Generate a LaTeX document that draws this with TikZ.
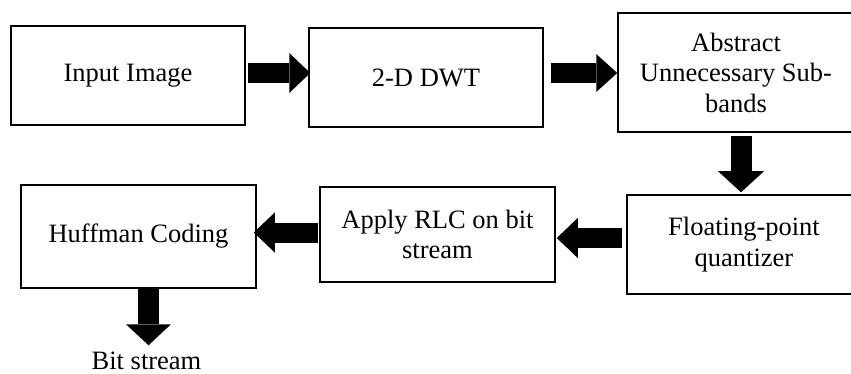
\documentclass[tikz,border=0pt]{standalone}
\usepackage{fontspec}
\setmainfont{Liberation Serif}
\usetikzlibrary{arrows.meta,calc}

\tikzset{
  stage/.style={draw, line width=1.5pt, rectangle, inner sep=0pt, align=center,
    font=\fontsize{26.5}{30.5}\selectfont},
  blk/.style={line width=20pt, -{Triangle[length=21pt,width=#1,line width=0pt]}},
  blk/.default=40pt,
  lbl/.style={inner sep=0pt, font=\fontsize{26.5}{30.5}\selectfont}
}

\begin{document}
\begin{tikzpicture}[x=1pt,y=-1pt]
  \clip (0,0) rectangle (851,374);

  % processing stages
  \node[stage, minimum width=234pt, minimum height=99pt]  (inp) at (128,75.5)   {Input Image};
  \node[stage, minimum width=234pt, minimum height=99pt]  (dwt) at (426,77.5)   {2-D DWT};
  \node[stage, minimum width=236pt, minimum height=119pt] (abs) at (736,72.5)   {Abstract\\Unnecessary Sub-\\bands};
  \node[stage, minimum width=234pt, minimum height=99pt]  (flt) at (744,244.5)  {\raisebox{-2pt}{\begin{tabular}{@{}c@{}}Floating-point\\[0.5pt]quantizer\end{tabular}}};
  \node[stage, minimum width=235pt, minimum height=95pt]  (rlc) at (437.5,234.5) {Apply RLC on bit\\stream};
  \node[stage, minimum width=235pt, minimum height=103pt] (huf) at (138.5,236.5) {Huffman Coding};
  \node[lbl, anchor=base] (bits) at (146.5,369) {Bit stream};

  % block arrows between stages
  \draw[blk] ($(inp.east|-0,73)+(2,0)$) -- ($(dwt.west|-0,73)+(2,0)$);
  \draw[blk=38pt] ($(dwt.east|-0,73)+(7,0)$) -- (abs.west|-0,73);
  \draw[blk=46pt, line width=21pt] ($(abs.south-|741,0)+(0,3)$) -- ($(flt.north-|741,0)+(0,-2)$);
  \draw[blk] ($(flt.west|-0,238)+(-4,0)$) -- ($(rlc.east|-0,238)+(1,0)$);
  \draw[blk] ($(rlc.west|-0,232.5)+(-1,0)$) -- ($(huf.east|-0,232.5)+(-3,0)$);
  \draw[blk=45pt, line width=21pt] (huf.south-|148.5,0) -- ($(bits.north)+(2,-6)$);
\end{tikzpicture}
\end{document}
